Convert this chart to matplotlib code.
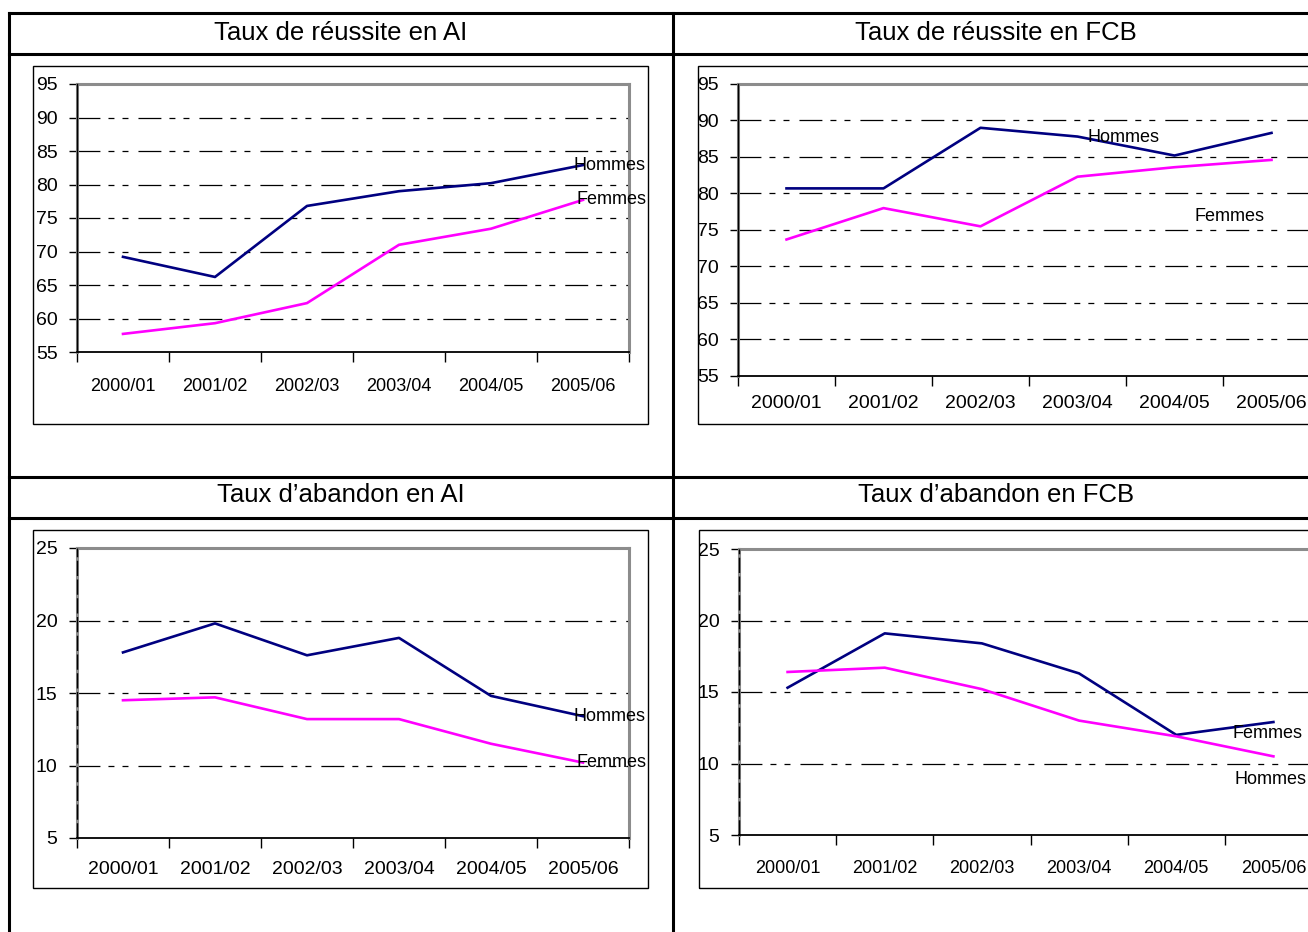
import matplotlib
matplotlib.use("Agg")
import matplotlib.pyplot as plt
from matplotlib.lines import Line2D
from matplotlib.patches import Rectangle
from matplotlib import font_manager

# taille de la page en pixels
W, H = 1308, 932

years = ["2000/01", "2001/02", "2002/03", "2003/04", "2004/05", "2005/06"]

reussite_ai_hommes = [69.2, 66.2, 76.8, 79.0, 80.2, 82.9]
reussite_ai_femmes = [57.7, 59.3, 62.3, 71.0, 73.4, 77.7]
reussite_fcb_hommes = [80.7, 80.7, 89.0, 87.8, 85.2, 88.3]
reussite_fcb_femmes = [73.7, 78.0, 75.5, 82.3, 83.6, 84.6]
abandon_ai_hommes = [17.8, 19.8, 17.6, 18.8, 14.8, 13.4]
abandon_ai_femmes = [14.5, 14.7, 13.2, 13.2, 11.5, 10.2]
abandon_fcb_hommes = [15.3, 19.1, 18.4, 16.3, 12.0, 12.9]
abandon_fcb_femmes = [16.4, 16.7, 15.2, 13.0, 11.9, 10.5]

reussite_ticks = [55, 60, 65, 70, 75, 80, 85, 90, 95]
abandon_ticks = [5, 10, 15, 20, 25]

titles = ["Taux de réussite en AI", "Taux de réussite en FCB",
          "Taux d\u2019abandon en AI", "Taux d\u2019abandon en FCB"]

names = {f.name for f in font_manager.fontManager.ttflist}
NARROW = "Liberation Sans Narrow" if "Liberation Sans Narrow" in names else "Liberation Sans"
REG = "Liberation Sans"

plt.rcParams["lines.scale_dashes"] = False
GRID_DASH = (0, (16.5, 5.8, 4.3, 5.8, 4.3, 7.2))
AXIS_DASH = (0, (11, 2.5))

fig = plt.figure(figsize=(W / 100, H / 100), dpi=100)
fig.patch.set_facecolor("white")


def frac(x0, y0, x1, y1):
    return [x0 / W, 1 - y1 / H, (x1 - x0) / W, (y1 - y0) / H]


def fline(x0, y0, x1, y1, lw=2.2, color="black"):
    fig.add_artist(Line2D([x0 / W, x1 / W], [1 - y0 / H, 1 - y1 / H],
                          transform=fig.transFigure, color=color, lw=lw,
                          solid_capstyle="projecting"))


# tableau
fline(9, 13, W, 13)
fline(9, 54, W, 54)
fline(9, 477, W, 477)
fline(9, 518, W, 518)
fline(9, 13, 9, H)
fline(673, 13, 673, H)

fig.text(341 / W, 1 - 33 / H, titles[0], ha="center", va="center", fontsize=18.5, family=NARROW)
fig.text(996 / W, 1 - 33 / H, titles[1], ha="center", va="center", fontsize=18.5, family=NARROW)
fig.text(341 / W, 1 - 495 / H, titles[2], ha="center", va="center", fontsize=18.5, family=NARROW)
fig.text(996 / W, 1 - 495 / H, titles[3], ha="center", va="center", fontsize=18.5, family=NARROW)


def chart(box, area, hommes, femmes, ticks, yfont, xfont, ysize, xsize, xpad, dashed_axis):
    fig.add_artist(Rectangle((box[0] / W, 1 - box[3] / H), (box[2] - box[0]) / W,
                             (box[3] - box[1]) / H, transform=fig.transFigure,
                             fill=False, edgecolor="black", lw=1.0))
    ax = fig.add_axes(frac(*area))
    ax.set_facecolor("none")
    ax.plot(range(len(years)), hommes, color="#000080", lw=1.9, zorder=4)
    ax.plot(range(len(years)), femmes, color="#FF00FF", lw=1.9, zorder=4)
    ax.set_xlim(-0.5, len(years) - 0.5)
    ax.set_ylim(ticks[0], ticks[-1])
    for v in ticks[1:-1]:
        ax.axhline(v, color="black", lw=0.9, ls=GRID_DASH, zorder=2)
    for s in ["top", "right", "left"]:
        ax.spines[s].set_color("#8c8c8c")
        ax.spines[s].set_linewidth(2.2)
    ax.spines["bottom"].set_color("black")
    ax.spines["bottom"].set_linewidth(1.3)
    ax.axvline(-0.5, color="black", lw=1.0, ls=AXIS_DASH if dashed_axis else "-",
               zorder=5, clip_on=False)
    ax.set_yticks(ticks)
    ax.set_yticklabels([str(t) for t in ticks], family=yfont, fontsize=ysize)
    ax.tick_params(axis="y", length=6, width=1, pad=8, color="black")
    ax.set_xticks([i - 0.5 for i in range(len(years) + 1)])
    ax.tick_params(axis="x", which="major", length=7, width=1, labelbottom=False)
    ax.set_xticks(range(len(years)), minor=True)
    ax.set_xticklabels(years, minor=True, family=xfont, fontsize=xsize)
    ax.tick_params(axis="x", which="minor", length=0, pad=xpad)
    return ax


lab = dict(fontsize=13, family=NARROW, va="center", ha="left", zorder=6,
           annotation_clip=False)

ax1 = chart((33, 66, 648, 424), (77, 84, 629, 352), reussite_ai_hommes, reussite_ai_femmes,
            reussite_ticks, REG, NARROW, 14, 13, 19, False)
ax1.annotate("Hommes", xy=(5, reussite_ai_hommes[-1]), xytext=(-6.5, 0), textcoords="offset points", **lab)
ax1.annotate("Femmes", xy=(5, reussite_ai_femmes[-1]), xytext=(-5, 0), textcoords="offset points", **lab)

ax2 = chart((698, 66, 1330, 424), (738, 84, 1320, 376), reussite_fcb_hommes, reussite_fcb_femmes,
            reussite_ticks, NARROW, REG, 14, 14, 14, False)
ax2.annotate("Hommes", xy=(3.1, 87.7), **lab)
ax2.annotate("Femmes", xy=(4.21, 76.8), **lab)

ax3 = chart((33, 530, 648, 888), (77, 548, 629, 838), abandon_ai_hommes, abandon_ai_femmes,
            abandon_ticks, REG, REG, 14, 14, 16.5, True)
ax3.annotate("Hommes", xy=(5, abandon_ai_hommes[-1]), xytext=(-6.5, 0), textcoords="offset points", **lab)
ax3.annotate("Femmes", xy=(5, abandon_ai_femmes[-1]), xytext=(-5, 0), textcoords="offset points", **lab)

ax4 = chart((699, 530, 1330, 888), (739, 549, 1322, 835), abandon_fcb_hommes, abandon_fcb_femmes,
            abandon_ticks, NARROW, NARROW, 14, 13, 18, True)
ax4.annotate("Femmes", xy=(4.58, 12.13), **lab)
ax4.annotate("Hommes", xy=(4.6, 8.85), **lab)

fig.savefig("out.png", dpi=100, facecolor="white")
